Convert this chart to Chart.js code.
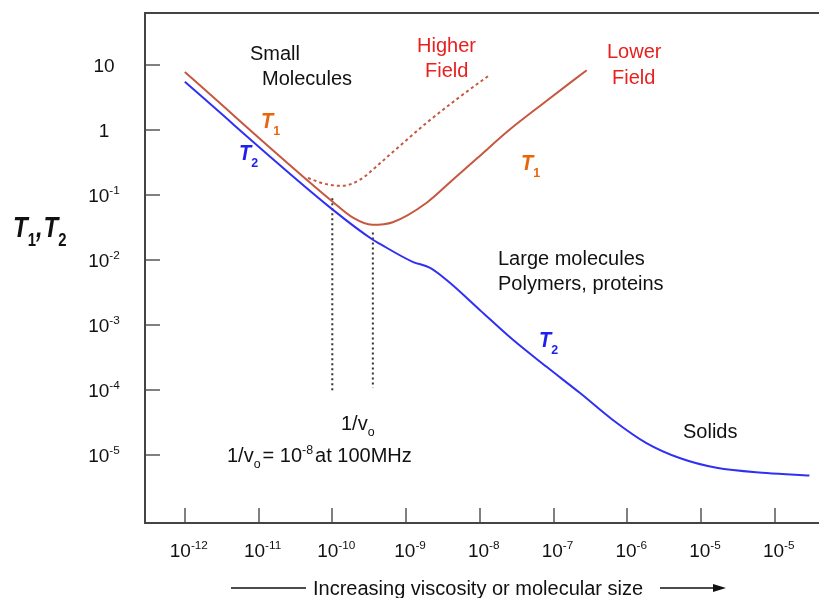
<!DOCTYPE html>
<html>
<head>
<meta charset="utf-8">
<script src="https://cdn.jsdelivr.net/npm/chart.js@4.4.1/dist/chart.umd.min.js"></script>
<style>
  html, body { margin: 0; padding: 0; background: #fff; }
  #wrap { width: 819px; height: 598px; position: relative; }
</style>
</head>
<body>
<div id="wrap"><canvas id="chart"></canvas></div>
<script>
var t2Exp = [-12, -9.99, -9.45, -9.36, -8.91, -8.68, -8.45, -8.0, -7.55, -7.09, -6.64, -6.2, -5.74, -5.29, -4.79, -4.11, -3.53];
var t2Val = [0.74, -1.23, -1.69, -1.75, -2.03, -2.12, -2.31, -2.77, -3.23, -3.65, -4.05, -4.46, -4.82, -5.05, -5.2, -5.28, -5.32];

var t1LowExp = [-12, -9.99, -9.72, -9.46, -9.18, -8.72, -8.37, -8.04, -7.59, -7.15, -6.55];
var t1LowVal = [0.89, -1.11, -1.35, -1.46, -1.42, -1.12, -0.77, -0.44, 0.01, 0.4, 0.92];

var t1HighExp = [-10.33, -10.1, -9.87, -9.63, -9.36, -9.18, -8.72, -8.27, -7.86];
var t1HighVal = [-0.74, -0.83, -0.86, -0.77, -0.52, -0.34, 0.11, 0.51, 0.85];

// 1/v0 markers
var markExp = [-10, -9.45];
var markTop = [-1.05, -1.58];
var markBottom = [-4.03, -3.97];

var xTickExp = [-12, -11, -10, -9, -8, -7, -6, -5, -4];
var xTickLabels = ["-12", "-11", "-10", "-9", "-8", "-7", "-6", "-5", "-5"];
var yTickExp = [1, 0, -1, -2, -3, -4, -5];
var yTickLabels = ["10", "1", "10|-1", "10|-2", "10|-3", "10|-4", "10|-5"];

function pts(xs, ys) {
  return xs.map(function(x, i) { return { x: Math.pow(10, x), y: Math.pow(10, ys[i]) }; });
}

var datasets = [
  { label: "T2", data: pts(t2Exp, t2Val), borderColor: "#3030f5", borderWidth: 2, cubicInterpolationMode: "monotone" },
  { label: "T1 lower field", data: pts(t1LowExp, t1LowVal), borderColor: "#c5583f", borderWidth: 2, cubicInterpolationMode: "monotone" },
  { label: "T1 higher field", data: pts(t1HighExp, t1HighVal), borderColor: "#c5583f", borderWidth: 2, borderDash: [3, 3], cubicInterpolationMode: "monotone" }
];
markExp.forEach(function(e, i) {
  datasets.push({ label: "1/v0", data: pts([e, e], [markTop[i], markBottom[i]]), borderColor: "#333", borderWidth: 2, borderDash: [2, 3] });
});

var FONT = "Liberation Sans, Arial, sans-serif";

// writes text pieces: [text, "sub"|"sup"|null, extraGap, styleOverride]
function rich(ctx, x, y, parts, size, color, style, align, yScale) {
  ctx.save();
  ctx.fillStyle = color;
  ctx.textBaseline = "alphabetic";
  ctx.textAlign = "left";
  var sy = yScale || 1;
  var fontOf = function(p) {
    var s = p[1] ? size * 0.62 : size;
    var st = p[3] !== undefined ? p[3] : (style || "");
    return st + " " + s + "px " + FONT;
  };
  var w = 0;
  parts.forEach(function(p) {
    ctx.font = fontOf(p);
    w += ctx.measureText(p[0]).width + (p[2] || 0);
  });
  var cx = align === "right" ? x - w : align === "center" ? x - w / 2 : x;
  ctx.translate(0, y);
  ctx.scale(1, sy);
  parts.forEach(function(p) {
    ctx.font = fontOf(p);
    var dy = p[1] === "sup" ? -size * 0.4 : p[1] === "sub" ? size * 0.3 : 0;
    ctx.fillText(p[0], cx, dy);
    cx += ctx.measureText(p[0]).width + (p[2] || 0);
  });
  ctx.restore();
}

var decor = {
  id: "decor",
  afterDraw: function(chart) {
    var ctx = chart.ctx, a = chart.chartArea;
    var xs = chart.scales.x, ys = chart.scales.y;
    ctx.save();
    // ticks inside the frame
    ctx.strokeStyle = "#808080";
    ctx.lineWidth = 2;
    xTickExp.forEach(function(e) {
      var px = Math.round(xs.getPixelForValue(Math.pow(10, e)));
      ctx.beginPath(); ctx.moveTo(px, a.bottom); ctx.lineTo(px, a.bottom - 15); ctx.stroke();
    });
    yTickExp.forEach(function(e) {
      var py = Math.round(ys.getPixelForValue(Math.pow(10, e)));
      ctx.beginPath(); ctx.moveTo(a.left, py); ctx.lineTo(a.left + 15, py); ctx.stroke();
    });
    // frame: left, top, bottom
    ctx.strokeStyle = "#444";
    ctx.beginPath();
    ctx.moveTo(819, a.top); ctx.lineTo(a.left, a.top); ctx.lineTo(a.left, a.bottom); ctx.lineTo(819, a.bottom);
    ctx.stroke();

    // tick labels
    xTickExp.forEach(function(e, i) {
      var px = xs.getPixelForValue(Math.pow(10, e));
      rich(ctx, px + 4, 557, [["10"], [xTickLabels[i], "sup"]], 19, "#111", "", "center");
    });
    yTickExp.forEach(function(e, i) {
      var py = ys.getPixelForValue(Math.pow(10, e));
      var p = yTickLabels[i].split("|");
      var parts = p.length > 1 ? [[p[0]], [p[1], "sup"]] : [[p[0]]];
      rich(ctx, 104, py + 7, parts, 19, "#111", "", "center");
    });

    // axis title
    rich(ctx, 13, 237, [["T"], ["1", "sub", 0, "bold"], [",", null, 1], ["T"], ["2", "sub", 0, "bold"]], 24, "#111", "italic bold", "left", 1.25);

    // annotations
    rich(ctx, 250, 60, [["Small"]], 20, "#111");
    rich(ctx, 262, 85, [["Molecules"]], 20, "#111");
    rich(ctx, 417, 52, [["Higher"]], 20, "#e8201e");
    rich(ctx, 425, 77, [["Field"]], 20, "#e8201e");
    rich(ctx, 607, 58, [["Lower"]], 20, "#e8201e");
    rich(ctx, 612, 84, [["Field"]], 20, "#e8201e");
    rich(ctx, 261, 128, [["T"], ["1", "sub", 0, "bold"]], 20, "#e8650a", "italic bold", "left", 1.1);
    rich(ctx, 239, 160, [["T"], ["2", "sub", 0, "bold"]], 20, "#2020ee", "italic bold", "left", 1.1);
    rich(ctx, 521, 170, [["T"], ["1", "sub", 0, "bold"]], 20, "#e8650a", "italic bold", "left", 1.1);
    rich(ctx, 539, 347, [["T"], ["2", "sub", 0, "bold"]], 20, "#2020ee", "italic bold", "left", 1.1);
    rich(ctx, 498, 265, [["Large molecules"]], 20, "#111");
    rich(ctx, 498, 290, [["Polymers, proteins"]], 20, "#111");
    rich(ctx, 683, 438, [["Solids"]], 20, "#111");
    rich(ctx, 341, 430, [["1/v"], ["o", "sub"]], 20, "#111");
    rich(ctx, 227, 462, [["1/v"], ["o", "sub", 2], ["= 10"], ["-8", "sup", 2], ["at 100MHz"]], 20, "#111");

    // bottom arrow caption
    ctx.strokeStyle = "#111";
    ctx.lineWidth = 1.5;
    ctx.beginPath(); ctx.moveTo(231, 588); ctx.lineTo(306, 588); ctx.stroke();
    ctx.beginPath(); ctx.moveTo(660, 588); ctx.lineTo(716, 588); ctx.stroke();
    ctx.fillStyle = "#111";
    ctx.beginPath(); ctx.moveTo(726, 588); ctx.lineTo(713, 584); ctx.lineTo(713, 592); ctx.closePath(); ctx.fill();
    rich(ctx, 313, 595, [["Increasing viscosity or molecular size"]], 20, "#111");
    ctx.restore();
  }
};

new Chart(document.getElementById("chart"), {
  type: "line",
  data: { datasets: datasets },
  options: {
    responsive: true,
    maintainAspectRatio: false,
    animation: false,
    layout: { padding: { left: 145, top: 13, right: 0, bottom: 75 } },
    elements: { point: { radius: 0 }, line: { fill: false } },
    plugins: { legend: { display: false }, tooltip: { enabled: false } },
    scales: {
      x: { type: "logarithmic", display: false, min: Math.pow(10, -12.54), max: Math.pow(10, -3.4) },
      y: { type: "logarithmic", display: false, min: Math.pow(10, -6.05), max: Math.pow(10, 1.8) }
    }
  },
  plugins: [decor]
});
</script>
</body>
</html>
